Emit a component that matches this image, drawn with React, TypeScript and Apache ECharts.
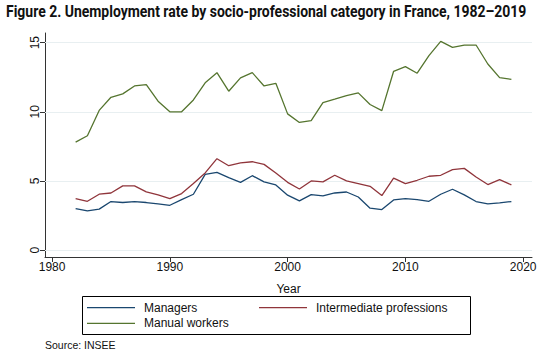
import React, { useEffect, useRef } from "react";
import * as echarts from "echarts";

const years = [
  1982, 1983, 1984, 1985, 1986, 1987, 1988, 1989, 1990, 1991, 1992, 1993, 1994,
  1995, 1996, 1997, 1998, 1999, 2000, 2001, 2002, 2003, 2004, 2005, 2006, 2007,
  2008, 2009, 2010, 2011, 2012, 2013, 2014, 2015, 2016, 2017, 2018, 2019,
];
const managers = [
  3.0, 2.84, 2.96, 3.51, 3.44, 3.51, 3.44, 3.34, 3.24, 3.65, 4.04, 5.48, 5.62,
  5.24, 4.9, 5.38, 4.93, 4.71, 3.97, 3.56, 4.01, 3.92, 4.13, 4.2, 3.84, 3.03,
  2.93, 3.63, 3.72, 3.65, 3.53, 4.04, 4.4, 3.99, 3.51, 3.34, 3.41, 3.51,
];
const intermediate = [
  3.72, 3.53, 4.04, 4.13, 4.64, 4.64, 4.21, 3.99, 3.72, 4.09, 4.81, 5.58, 6.61,
  6.1, 6.3, 6.39, 6.2, 5.58, 4.9, 4.42, 5.0, 4.93, 5.41, 5.0, 4.81, 4.61, 3.94,
  5.21, 4.81, 5.05, 5.34, 5.41, 5.82, 5.91, 5.29, 4.74, 5.1, 4.71,
];
const manual = [
  7.81, 8.27, 10.1, 11.05, 11.3, 11.87, 11.97, 10.77, 10.0, 10.0, 10.86, 12.1,
  12.83, 11.49, 12.45, 12.83, 11.87, 12.06, 9.85, 9.23, 9.37, 10.67, 10.91,
  11.17, 11.37, 10.53, 10.09, 12.93, 13.27, 12.79, 14.06, 15.09, 14.66, 14.83,
  14.83, 13.46, 12.47, 12.35,
];
const xTicks = [1980, 1990, 2000, 2010, 2020];
const yTicks = [0, 5, 10, 15];
const seriesNames = ["Managers", "Intermediate professions", "Manual workers"];
const seriesColors = ["#1a476f", "#90353b", "#55752f"];

const TITLE = "Figure 2. Unemployment rate by socio-professional category in France, 1982\u20132019";
const SOURCE = "Source: INSEE";

export default function App() {
  const ref = useRef<HTMLDivElement>(null);
  useEffect(() => {
    if (!ref.current) return;
    const chart = echarts.init(ref.current, null, { renderer: "svg" });
    const titleFont = "bold 17px Roboto";
    let scaleX = 1;
    try {
      const ctx = document.createElement("canvas").getContext("2d");
      if (ctx) {
        ctx.font = titleFont;
        const w = ctx.measureText(TITLE).width;
        if (w > 0) scaleX = 521 / w;
      }
    } catch (e) {}

    const font = "Liberation Sans, Arial, sans-serif";
    const axisColor = "#333";
    const textColor = "#111";
    const allData = [managers, intermediate, manual];

    const legendCommon = {
      orient: "horizontal",
      padding: 0,
      itemWidth: 48,
      itemHeight: 1.2,
      icon: "rect",
      selectedMode: false,
      textStyle: {
        fontSize: 12,
        fontFamily: font,
        color: textColor,
        padding: [0, 0, 0, 4],
        lineHeight: 14,
      },
    };

    const option: any = {
      animation: false,
      backgroundColor: "#ffffff",
      grid: { left: 45, right: 15, top: 33, bottom: 94, containLabel: false },
      xAxis: {
        type: "value",
        min: 1979.4,
        max: 2020.75,
        name: "Year",
        nameLocation: "middle",
        nameGap: 26,
        nameTextStyle: { fontSize: 12, fontFamily: font, color: textColor },
        axisLine: { show: true, onZero: false, lineStyle: { color: axisColor, width: 1 } },
        axisTick: { show: true, length: 5, customValues: xTicks, lineStyle: { color: axisColor } },
        axisLabel: {
          customValues: xTicks,
          formatter: (v: number) => String(v),
          fontSize: 12,
          fontFamily: font,
          color: textColor,
          margin: 4,
        },
        splitLine: { show: false },
      },
      yAxis: {
        type: "value",
        min: -0.5,
        max: 15.7,
        axisLine: { show: true, onZero: false, lineStyle: { color: axisColor, width: 1 } },
        axisTick: { show: true, length: 5, customValues: yTicks, lineStyle: { color: axisColor } },
        axisLabel: {
          customValues: yTicks,
          formatter: (v: number) => String(v),
          rotate: 90,
          fontSize: 12,
          fontFamily: font,
          color: textColor,
          margin: 4,
        },
        splitLine: { show: false },
      },
      legend: [
        { ...legendCommon, data: [seriesNames[0]], left: 87, top: 300.7 },
        { ...legendCommon, data: [seriesNames[1]], left: 259, top: 300.7 },
        { ...legendCommon, data: [seriesNames[2]], left: 87, top: 316.3 },
      ],
      series: [
        {
          type: "line",
          name: "grid",
          data: [],
          z: 1,
          silent: true,
          markLine: {
            z: 1,
            silent: true,
            symbol: ["none", "none"],
            label: { show: false },
            emphasis: { disabled: true },
            lineStyle: { color: "#e8eff1", width: 1, type: "solid" },
            data: yTicks.map((v) => ({ yAxis: v })),
          },
        },
        ...seriesNames.map((name, k) => ({
          type: "line",
          name,
          z: 3,
          data: years.map((yr, i) => [yr, allData[k][i]]),
          showSymbol: false,
          symbol: "none",
          itemStyle: { color: seriesColors[k] },
          lineStyle: { color: seriesColors[k], width: 1.3 },
        })),
      ],
      graphic: [
        {
          type: "text",
          x: 6,
          y: 12,
          scaleX,
          style: {
            text: TITLE,
            font: titleFont,
            fill: "#111",
            textAlign: "left",
            textVerticalAlign: "middle",
          },
        },
        {
          type: "rect",
          shape: { x: 82.5, y: 296.5, width: 388, height: 38 },
          style: { fill: "none", stroke: "#000", lineWidth: 1 },
          silent: true,
        },
        {
          type: "text",
          x: 45,
          y: 345,
          style: {
            text: SOURCE,
            font: "10.5px Liberation Sans, Arial, sans-serif",
            fill: "#111",
            textAlign: "left",
            textVerticalAlign: "middle",
          },
        },
      ],
    };
    chart.setOption(option);
    return () => chart.dispose();
  }, []);
  return (
    <div
      ref={ref}
      style={{ position: "absolute", left: 0, top: 0, width: 547, height: 351 }}
    />
  );
}
